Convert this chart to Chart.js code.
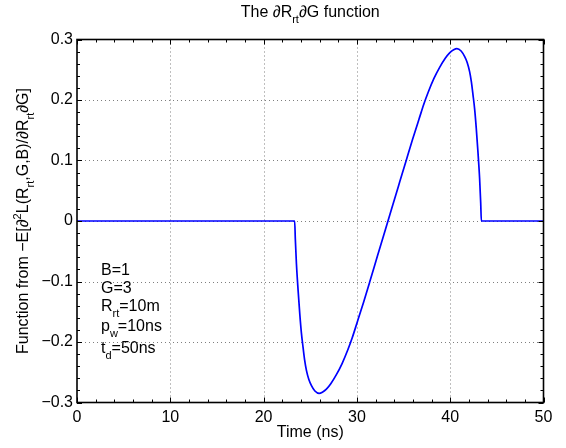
<!DOCTYPE html>
<html><head><meta charset="utf-8">
<script src="https://cdn.jsdelivr.net/npm/chart.js@4.4.1/dist/chart.umd.min.js"></script>
<style>html,body{margin:0;padding:0;background:#fff}#wrap{width:566px;height:448px;position:relative}</style>
</head><body><div id="wrap"><canvas id="c" width="566" height="448"></canvas></div>
<script>
// ---- data ----
const timeNs = [0, 23.33, 23.4, 23.52, 23.7, 23.88, 24.05, 24.23, 24.4, 24.59, 24.85, 25.13, 25.5, 25.95, 26.3, 26.73, 27.2, 27.8, 28.4, 29.05, 29.5, 30, 30.7, 31.37, 32.2, 33.33, 34.46, 35.3, 35.97, 36.67, 37.17, 37.62, 38.27, 38.87, 39.47, 39.94, 40.37, 40.72, 41.17, 41.54, 41.82, 42.08, 42.27, 42.44, 42.62, 42.79, 42.97, 43.15, 43.27, 43.34, 50];
const dRdG = [0, 0, -0.03, -0.071, -0.115, -0.154, -0.185, -0.209, -0.23, -0.247, -0.262, -0.272, -0.281, -0.285, -0.283, -0.278, -0.269, -0.254, -0.236, -0.212, -0.193, -0.169, -0.135, -0.101, -0.058, 0, 0.058, 0.101, 0.135, 0.169, 0.193, 0.212, 0.236, 0.254, 0.269, 0.278, 0.283, 0.285, 0.281, 0.272, 0.262, 0.247, 0.23, 0.209, 0.185, 0.154, 0.115, 0.071, 0.03, 0, 0];
const xTicks = [0, 10, 20, 30, 40, 50];
const xTickLabels = ['0', '10', '20', '30', '40', '50'];
const yTicks = [-0.3, -0.2, -0.1, 0, 0.1, 0.2, 0.3];
const yTickLabels = ['\u22120.3', '\u22120.2', '\u22120.1', '0', '0.1', '0.2', '0.3'];
const xMinorStep = 2;
const yMinorStep = 0.02;
const titleParts = [['The \u2202R', 0], ['rt', -1], ['\u2202G function', 0]];
const yLabelParts = [['Function from \u2212E[\u2202', 0], ['2', 1], ['L(R', 0], ['rt', -1], [',G,B)/\u2202R', 0], ['rt', -1], ['\u2202G]', 0]];
const xLabelText = 'Time (ns)';
const paramLines = [
  [['B=1', 0]],
  [['G=3', 0]],
  [['R', 0], ['rt', -1], ['=10m', 0]],
  [['p', 0], ['w', -1], ['=10ns', 0]],
  [['t', 0], ['d', -1], ['=50ns', 0]]
];

const FONT = '"Liberation Sans", Arial, Helvetica, sans-serif';
const MAIN = 16, SMALL = 11;

function richWidth(ctx, parts) {
  let w = 0;
  for (const [t, s] of parts) { ctx.font = (s ? SMALL : MAIN) + 'px ' + FONT; w += ctx.measureText(t).width; }
  return w;
}
function drawRich(ctx, parts, x, y) {
  ctx.textAlign = 'left'; ctx.textBaseline = 'alphabetic';
  for (const [t, s] of parts) {
    ctx.font = (s ? SMALL : MAIN) + 'px ' + FONT;
    const dy = s < 0 ? 6 : (s > 0 ? -7 : 0);
    ctx.fillText(t, x, y + dy);
    x += ctx.measureText(t).width;
  }
}

const decor = {
  id: 'decor',
  beforeDatasetsDraw(chart) {
    const { ctx, chartArea: a, scales: { x, y } } = chart;
    ctx.save();
    ctx.strokeStyle = 'rgba(0,0,0,0.5)';
    ctx.lineWidth = 1;
    ctx.setLineDash([1, 3]);
    for (const v of xTicks) {
      const px = Math.round(x.getPixelForValue(v)) + 0.5;
      if (v === xTicks[0] || v === xTicks[xTicks.length - 1]) continue;
      ctx.beginPath(); ctx.moveTo(px, a.top); ctx.lineTo(px, a.bottom); ctx.stroke();
    }
    for (const v of yTicks) {
      const py = Math.round(y.getPixelForValue(v)) + 0.5;
      if (v === yTicks[0] || v === yTicks[yTicks.length - 1]) continue;
      ctx.beginPath(); ctx.moveTo(a.left, py); ctx.lineTo(a.right, py); ctx.stroke();
    }
    ctx.restore();
  },
  afterDatasetsDraw(chart) {
    const { ctx, chartArea: a, scales: { x, y } } = chart;
    ctx.save();
    ctx.strokeStyle = '#000';
    ctx.lineWidth = 1;
    ctx.setLineDash([]);
    for (let v = x.min; v <= x.max + 1e-9; v += xMinorStep) {
      const px = Math.round(x.getPixelForValue(v)) + 0.5;
      const L = xTicks.some(t => Math.abs(t - v) < 1e-9) ? 5 : 3;
      ctx.beginPath(); ctx.moveTo(px, a.bottom); ctx.lineTo(px, a.bottom - L);
      ctx.moveTo(px, a.top); ctx.lineTo(px, a.top + L); ctx.stroke();
    }
    for (let i = 0; ; i++) {
      const v = y.min + i * yMinorStep;
      if (v > y.max + 1e-9) break;
      const py = Math.round(y.getPixelForValue(v)) + 0.5;
      const L = yTicks.some(t => Math.abs(t - v) < 1e-9) ? 5 : 3;
      ctx.beginPath(); ctx.moveTo(a.left, py); ctx.lineTo(a.left + L, py);
      ctx.moveTo(a.right, py); ctx.lineTo(a.right - L, py); ctx.stroke();
    }
    ctx.lineWidth = 1.6;
    ctx.strokeRect(a.left, a.top, a.right - a.left, a.bottom - a.top);
    ctx.restore();
  },
  afterDraw(chart) {
    const { ctx, chartArea: a } = chart;
    ctx.save();
    ctx.fillStyle = '#000';
    const cx = (a.left + a.right) / 2;
    drawRich(ctx, titleParts, cx - richWidth(ctx, titleParts) / 2, 17);
    ctx.font = MAIN + 'px ' + FONT;
    ctx.textAlign = 'center'; ctx.textBaseline = 'alphabetic';
    ctx.fillText(xLabelText, cx, 437);
    ctx.save();
    ctx.translate(28, (a.top + a.bottom) / 2);
    ctx.rotate(-Math.PI / 2);
    drawRich(ctx, yLabelParts, -richWidth(ctx, yLabelParts) / 2, 0);
    ctx.restore();
    const baselines = [275, 292.5, 310.5, 331, 352.5];
    paramLines.forEach((ln, i) => drawRich(ctx, ln, 101, baselines[i]));
    ctx.restore();
  }
};

new Chart(document.getElementById('c'), {
  type: 'line',
  data: {
    datasets: [{
      data: timeNs.map((t, i) => ({ x: t, y: dRdG[i] })),
      borderColor: '#0000ff',
      borderWidth: 1.7,
      pointRadius: 0,
      cubicInterpolationMode: 'monotone',
      fill: false
    }]
  },
  options: {
    responsive: false,
    animation: false,
    devicePixelRatio: 1,
    layout: { padding: { left: 0, right: 22.5, top: 39.5, bottom: 0 } },
    plugins: { legend: { display: false }, title: { display: false }, tooltip: { enabled: false } },
    scales: {
      x: {
        type: 'linear', min: 0, max: 50,
        afterBuildTicks: s => { s.ticks = xTicks.map(v => ({ value: v })); },
        afterFit: s => { s.height = 45.5; },
        grid: { display: false, drawTicks: false },
        border: { display: false },
        ticks: {
          color: '#000', padding: 5, maxRotation: 0, autoSkip: false,
          font: { family: FONT, size: MAIN },
          callback: v => xTickLabels[xTicks.findIndex(t => Math.abs(t - v) < 1e-9)]
        }
      },
      y: {
        type: 'linear', min: -0.3, max: 0.3,
        afterBuildTicks: s => { s.ticks = yTicks.map(v => ({ value: v })); },
        afterFit: s => { s.width = 77; },
        grid: { display: false, drawTicks: false },
        border: { display: false },
        ticks: {
          color: '#000', padding: 4, autoSkip: false,
          font: { family: FONT, size: MAIN },
          callback: v => yTickLabels[yTicks.findIndex(t => Math.abs(t - v) < 1e-9)]
        }
      }
    }
  },
  plugins: [decor]
});
</script>
</body></html>
